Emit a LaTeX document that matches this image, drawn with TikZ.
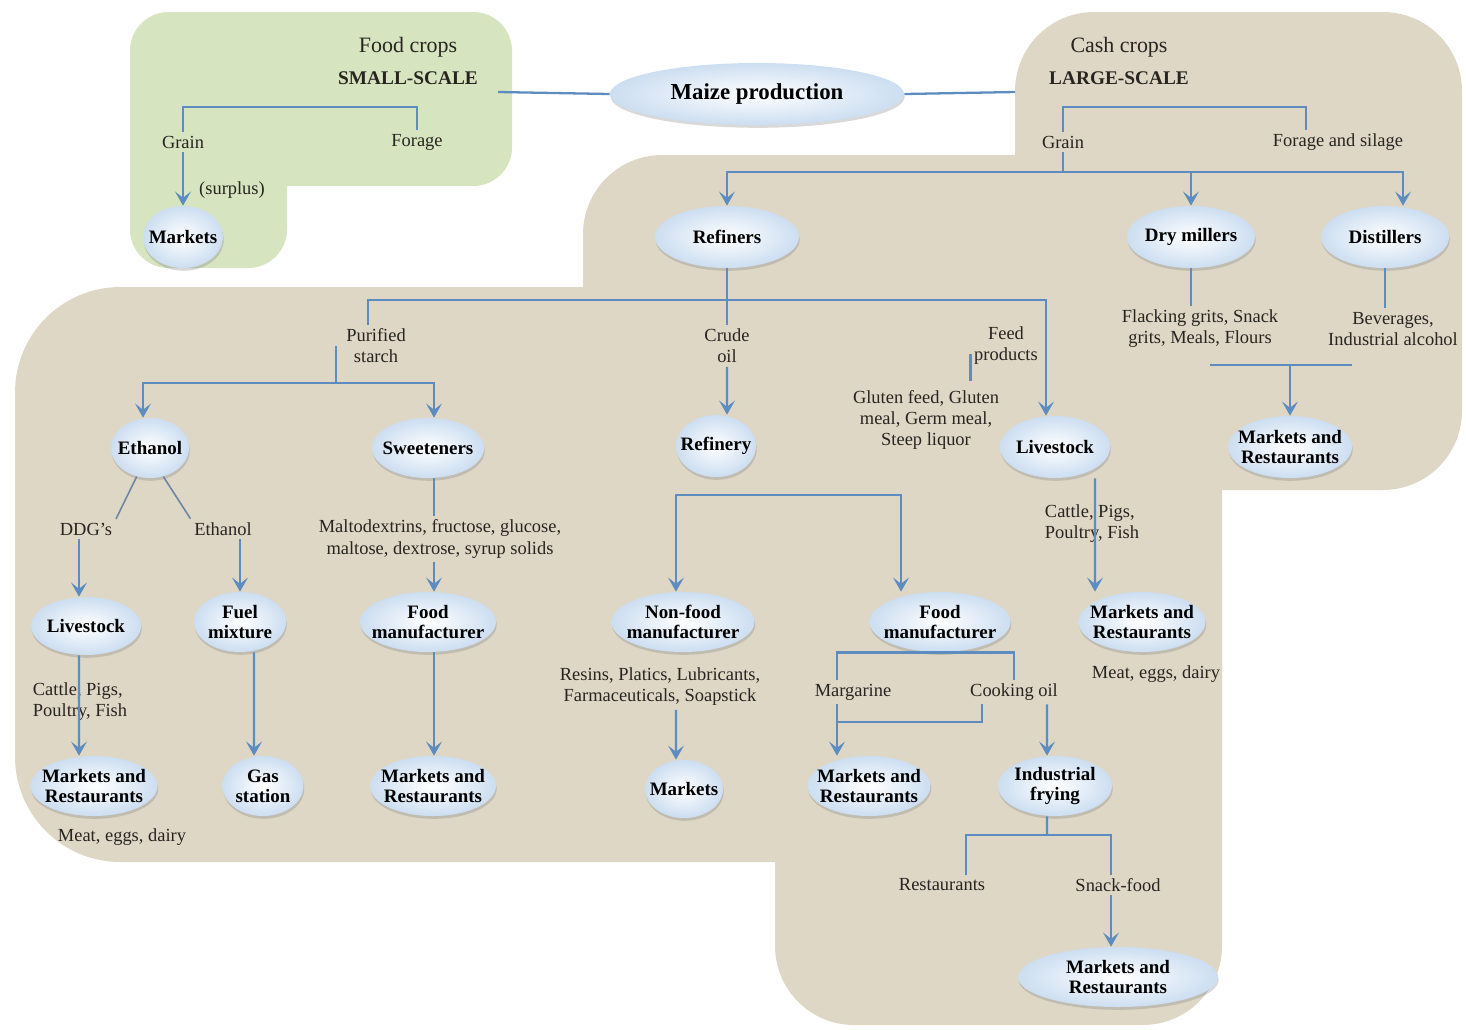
\documentclass[tikz,border=0pt]{standalone}
\usepackage{fontspec}
\setmainfont{Liberation Serif}
\usetikzlibrary{shapes.geometric, arrows, arrows.meta, shadows}
\definecolor{flow}{RGB}{92,140,192}
\definecolor{smallbg}{RGB}{214,228,192}
\definecolor{largebg}{RGB}{222,215,198}
\definecolor{blobedge}{RGB}{204,222,241}
\definecolor{ink}{RGB}{40,36,32}
\tikzstyle{blob} = [ellipse, inner sep=-0.5cm, minimum height=1.2cm, align=center, text=black, font=\fontsize{10.8}{11.5}\selectfont\bfseries, shading=radial, inner color=white, outer color=blobedge, drop shadow={shadow xshift=0.4pt, shadow yshift=-1.6pt, opacity=0.3}]
\tikzstyle{lbl} = [align=center, inner sep=2pt, text=ink, font=\fontsize{10.5}{12}\selectfont]
\tikzstyle{link} = [draw=flow, line width=1.3pt]
\tikzstyle{arrow} = [link, -{Stealth[length=8pt, width=9pt, inset=3.5pt]}]
\tikzstyle{twig} = [draw=flow!55!gray, line width=0.9pt]

\begin{document}
\begin{tikzpicture}[x=0.02cm, y=-0.02cm]
	\useasboundingbox (0,0) rectangle (1466,1029);
	% backgrounds
	\fill[smallbg, rounded corners=22] (130,12) rectangle (512,186) (130,12) rectangle (287,268);
	\fill[largebg, rounded corners=45] (1015,12) rectangle (1462,490) (583,155) rectangle (1462,490)
		(775,490) rectangle (1222,1025);
	\fill[largebg, rounded corners=60] (15,287) rectangle (1222,862);
	% top
	\node (foodcrops) [lbl, font=\fontsize{12.5}{14}\selectfont] at (408,47) {Food crops};
	\node (small) [lbl, font=\fontsize{11}{13}\selectfont\bfseries] at (408,78) {SMALL-SCALE};
	\node (cashcrops) [lbl, font=\fontsize{12.5}{14}\selectfont] at (1119,47) {Cash crops};
	\node (large) [lbl, font=\fontsize{11}{13}\selectfont\bfseries] at (1119,78) {LARGE-SCALE};
	\node (maize) [blob, minimum width=5.88cm, minimum height=1.24cm, font=\fontsize{13}{15}\selectfont\bfseries] at (757,94) {Maize production};
	\coordinate (sline) at (498,92);
	\coordinate (lline) at (1015,92);
	% small-scale
	\node (sgrain) [lbl] at (183,142) {Grain};
	\node (sforage) [lbl] at (417,142) {Forage};
	\node (surplus) [lbl] at (232,190) {(surplus)};
	\node (mkt0) [blob, minimum width=1.6cm, minimum height=1.24cm] at (183,237) {Markets};
	\coordinate (sbar) at (300,107);
	% large-scale
	\node (lgrain) [lbl] at (1063,142) {Grain};
	\node (lforage) [lbl] at (1338,142) {Forage and silage};
	\coordinate (lbar) at (1180,107);
	\coordinate (gsplit) at (1063,172);
	\node (refiners) [blob, minimum width=2.88cm, minimum height=1.24cm] at (727,237) {Refiners};
	\node (drymill) [blob, minimum width=2.56cm, minimum height=1.24cm] at (1191,237) {Dry millers};
	\node (distil) [blob, minimum width=2.56cm, minimum height=1.24cm] at (1385,237) {Distillers};
	\node (flacking) [lbl] at (1200,329) {Flacking grits, Snack\\grits, Meals, Flours};
	\node (bever) [lbl] at (1393,329) {Beverages,\\Industrial alcohol};
	\coordinate (dbarL) at (1210,365);
	\coordinate (dbarR) at (1352,365);
	\node (mrdry) [blob, minimum width=2.48cm, minimum height=1.24cm] at (1290,447) {Markets and\\Restaurants};
	% refiners
	\coordinate (rbar) at (727,300);
	\node (starch) [lbl] at (376,346) {Purified\\starch};
	\node (crude) [lbl] at (727,346) {Crude\\oil};
	\node (feed) [lbl] at (1006,346) {Feed\\products};
	\node (gluten) [lbl] at (926,420) {Gluten feed, Gluten\\meal, Germ meal,\\Steep liquor};
	\node (refinery) [blob, minimum width=1.6cm, minimum height=1.24cm] at (716,446) {Refinery};
	\node (stock) [blob, minimum width=2.2cm, minimum height=1.24cm] at (1055,447) {Livestock};
	% starch
	\coordinate (pbar) at (336,383);
	\coordinate (scol) at (434,0);
	\node (ethanol) [blob, minimum width=1.56cm] at (150,448) {Ethanol};
	\node (sweet) [blob, minimum width=2.24cm] at (428,448) {Sweeteners};
	\node (ddg) [lbl] at (86,529) {DDG’s};
	\node (ethtxt) [lbl] at (223,529) {Ethanol};
	\node (malto) [lbl] at (440,539) {Maltodextrins, fructose, glucose,\\maltose, dextrose, syrup solids};
	\node (stock2) [blob, minimum width=2.2cm, minimum height=1.16cm] at (86,626) {Livestock};
	\node (fuel) [blob, minimum width=1.84cm] at (240,622) {Fuel\\mixture};
	\node (foodman1) [blob, minimum width=2.72cm] at (428,622) {Food\\manufacturer};
	\node (cattle1) [lbl, align=left] at (80,702) {Cattle, Pigs,\\Poultry, Fish};
	\node (mrlive) [blob, minimum width=2.54cm] at (94,786) {Markets and\\Restaurants};
	\node (gas) [blob, minimum width=1.62cm] at (263,786) {Gas\\station};
	\node (mrsweet) [blob, minimum width=2.52cm] at (433,786) {Markets and\\Restaurants};
	\node (meat1) [lbl] at (122,837) {Meat, eggs, dairy};
	% crude oil
	\coordinate (obar) at (790,495);
	\node (nonfood) [blob, minimum width=2.86cm] at (683,622) {Non-food\\manufacturer};
	\node (foodman2) [blob, minimum width=2.82cm] at (940,622) {Food\\manufacturer};
	\node (resins) [lbl] at (660,687) {Resins, Platics, Lubricants,\\Farmaceuticals, Soapstick};
	\node (markets) [blob, minimum width=1.56cm, minimum height=1.16cm] at (684,789) {Markets};
	\node (margarine) [lbl] at (853,692) {Margarine};
	\node (cooking) [lbl] at (1014,692) {Cooking oil};
	\coordinate (mcol) at (837,722);
	\node (mrmarg) [blob, minimum width=2.46cm] at (869,786) {Markets and\\Restaurants};
	\node (frying) [blob, minimum width=2.28cm] at (1055,786) {Industrial\\frying};
	\coordinate (fbar) at (1047,835);
	\node (rest) [lbl] at (942,885) {Restaurants};
	\node (snack) [lbl] at (1118,885) {Snack-food};
	\node (mrsnack) [blob, minimum width=4cm] at (1118,977) {Markets and\\Restaurants};
	% feed
	\node (cattle2) [lbl, align=left] at (1092,524) {Cattle, Pigs,\\Poultry, Fish};
	\node (mrstock) [blob, minimum width=2.54cm] at (1142,622) {Markets and\\Restaurants};
	\node (meat2) [lbl] at (1156,674) {Meat, eggs, dairy};

	% connectors
	\draw [link] (sline) -- (maize.west);
	\draw [link] (maize.east) -- (lline);
	\draw [link] (sgrain.north) |- (sbar) -| (sforage.north);
	\draw [arrow] (sgrain.south) -- (mkt0.north);
	\draw [link] (lgrain.north) |- (lbar) -| ([xshift=-0.64cm]lforage.north);
	\draw [link] (lgrain.south) -- (gsplit);
	\draw [arrow] (gsplit) -| (refiners.north);
	\draw [arrow] (gsplit) -| (drymill.north);
	\draw [arrow] (gsplit) -| ([xshift=0.36cm]distil.north);
	\draw [link] (drymill.south) -- (drymill.south |- flacking.north);
	\draw [link] (distil.south) -- (distil.south |- bever.north);
	\draw [link] (dbarL) -- (dbarR);
	\draw [arrow] (dbarL -| mrdry.north) -- (mrdry.north);
	\draw [link] (refiners.south) -- (crude.north);
	\draw [link] ([xshift=-0.16cm]starch.north) |- (rbar);
	\draw [arrow] (rbar) -| ([xshift=-0.18cm]stock.north);
	\draw [link] ([yshift=0.3cm]feed.south west) -- ([yshift=-0.24cm]feed.south west);
	\draw [arrow] (crude.south) -- ([xshift=0.22cm]refinery.north);
	\draw [link] (pbar) -- (pbar |- starch.west);
	\draw [arrow] (pbar) -| ([xshift=-0.14cm]ethanol.north);
	\draw [arrow] (pbar) -| (scol |- sweet.north);
	\draw [twig] (ethanol.-115) -- (ddg.north east);
	\draw [twig] (ethanol.-65) -- (ethtxt.north west);
	\draw [arrow] ([xshift=-0.14cm]ddg.south) -- ([xshift=-0.14cm]stock2.north);
	\draw [arrow] (ethtxt.south -| fuel.north) -- (fuel.north);
	\draw [link] (scol |- sweet.south) -- (scol |- malto.north);
	\draw [arrow] (scol |- malto.south) -- (scol |- foodman1.north);
	\draw [arrow] ([xshift=-0.14cm]stock2.south) -- ([xshift=-0.3cm]mrlive.north);
	\draw [arrow] ([xshift=0.28cm]fuel.south) -- ([xshift=-0.18cm]gas.north);
	\draw [arrow] (scol |- foodman1.south) -- (scol |- mrsweet.north);
	\draw [arrow] (obar) -| ([xshift=-0.14cm]nonfood.north);
	\draw [arrow] (obar) -| ([xshift=-0.78cm]foodman2.north);
	\draw [arrow] ([xshift=0.32cm]resins.south) -- ([xshift=-0.16cm]markets.north);
	\draw [link] ([xshift=-0.32cm]margarine.north) |- (foodman2.south) -| (cooking.north);
	\draw [arrow] (mcol |- margarine.south) -- (mcol |- mrmarg.north);
	\draw [link] ([xshift=-0.64cm]cooking.south) |- (mcol);
	\draw [arrow] ([xshift=0.66cm]cooking.south) -- ([xshift=-0.16cm]frying.north);
	\draw [link] ([xshift=-0.16cm]frying.south) -- (fbar);
	\draw [link] ([xshift=0.48cm]rest.north) |- (fbar) -| ([xshift=-0.14cm]snack.north);
	\draw [arrow] ([xshift=-0.14cm]snack.south) -- ([xshift=-0.14cm]mrsnack.north);
	\draw [arrow] ([xshift=0.8cm]stock.south) -- ([xshift=-0.94cm]mrstock.north);
\end{tikzpicture}
\end{document}
